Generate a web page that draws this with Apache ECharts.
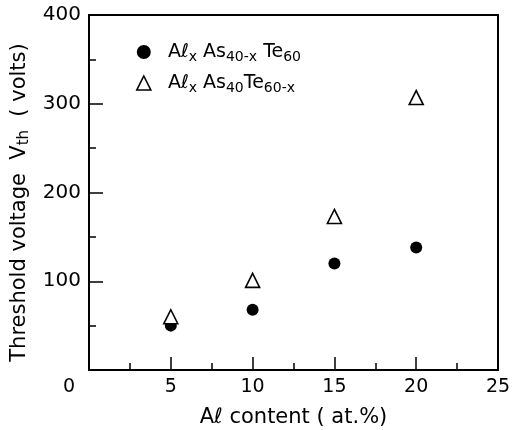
<!DOCTYPE html>
<html>
<head>
<meta charset="utf-8">
<script src="https://cdn.jsdelivr.net/npm/echarts@6/dist/echarts.min.js"></script>
<style>
  html, body { margin: 0; padding: 0; background: #fff; }
  #graph { width: 514px; height: 430px; }
</style>
</head>
<body>
<div id="graph"></div>
<script>
// Al content (at.%)
let alContent = [5, 10, 15, 20];
// threshold voltage, Al_x As_(40-x) Te_60 (filled circles)
let vthAsSeries = [50, 68, 120, 138];
// threshold voltage, Al_x As_40 Te_(60-x) (open triangles)
let vthTeSeries = [60, 101, 173, 307];

let xTicks = [0, 5, 10, 15, 20, 25];
let yTicks = [0, 100, 200, 300, 400];

let font = 'DejaVu Sans';

function pairs(xs, ys) {
    let out = [];
    for (let i = 0; i < xs.length; i++) {
        out.push([xs[i], ys[i]]);
    }
    return out;
}

let myChart = echarts.init(document.getElementById('graph'));

let option = {
    animation: false,
    backgroundColor: '#fff',
    grid: {
        left: 89, right: 16, top: 15, bottom: 60,
        outerBoundsMode: 'none',
        show: true, borderColor: '#000', borderWidth: 2
    },
    legend: {
        orient: 'vertical',
        left: 131, top: 35,
        itemWidth: 14, itemHeight: 14,
        itemGap: 7,
        selectedMode: false,
        textStyle: {
            fontFamily: font, fontSize: 19, color: '#000',
            rich: {
                n: { fontFamily: font, fontSize: 19, color: '#000', lineHeight: 25 },
                s: { fontFamily: font, fontSize: 14, color: '#000', lineHeight: 25, padding: [10, 0, 0, 0] }
            }
        },
        formatter: function (name) {
            if (name === 'as') return '{n|  Aℓ}{s|x}{n| As}{s|40-x}{n| Te}{s|60}';
            return '{n|  Aℓ}{s|x}{n| As}{s|40}{n|Te}{s|60-x}';
        },
        data: [
            { name: 'as', itemStyle: { color: '#000', opacity: 1 } },
            { name: 'te', itemStyle: { color: '#fff', borderColor: '#000', borderWidth: 1.6, opacity: 1 } }
        ]
    },
    xAxis: {
        type: 'value',
        min: 0, max: 25, interval: 5,
        name: 'Aℓ content ( at.%)',
        nameLocation: 'middle',
        nameGap: 37,
        nameTextStyle: { fontFamily: font, fontSize: 21, color: '#000' },
        axisLine: { lineStyle: { color: '#000', width: 2 } },
        axisTick: { inside: true, length: 13, lineStyle: { color: '#000', width: 1.5 } },
        minorTick: { show: true, splitNumber: 2, length: 7, lineStyle: { color: '#000', width: 1.5 } },
        splitLine: { show: false },
        axisLabel: {
            fontFamily: font, fontSize: 19, color: '#000', margin: 8,
            formatter: function (v) {
                if (v === 0) return '{z|0}';
                return xTicks.indexOf(v) >= 0 ? String(v) : '';
            },
            rich: { z: { fontFamily: font, fontSize: 19, color: '#000', padding: [0, 40, 0, 0] } }
        }
    },
    yAxis: {
        type: 'value',
        min: 0, max: 400, interval: 100,
        name: 'Threshold voltage  V{t|th}  ( volts)',
        nameLocation: 'middle',
        nameGap: 52,
        nameTextStyle: {
            fontFamily: font, fontSize: 21, color: '#000',
            padding: [0, 20, 0, 0],
            rich: { t: { fontFamily: font, fontSize: 15, color: '#000', padding: [9, 0, 0, 0] } }
        },
        axisLine: { lineStyle: { color: '#000', width: 2 } },
        axisTick: { inside: true, length: 14, lineStyle: { color: '#000', width: 1.5 } },
        minorTick: { show: true, splitNumber: 2, length: 7, lineStyle: { color: '#000', width: 1.5 } },
        splitLine: { show: false },
        axisLabel: {
            fontFamily: font, fontSize: 20, color: '#000', margin: 8,
            showMinLabel: false,
            formatter: function (v) {
                return yTicks.indexOf(v) >= 0 ? String(v) : '';
            }
        }
    },
    series: [
        {
            name: 'as',
            type: 'scatter',
            symbol: 'circle',
            symbolSize: 12,
            itemStyle: { color: '#000', opacity: 1 },
            data: pairs(alContent, vthAsSeries)
        },
        {
            name: 'te',
            type: 'scatter',
            symbol: 'triangle',
            symbolSize: 14,
            itemStyle: { color: '#fff', borderColor: '#000', borderWidth: 1.6, opacity: 1 },
            data: pairs(alContent, vthTeSeries)
        }
    ]
};

myChart.setOption(option);
</script>
</body>
</html>
